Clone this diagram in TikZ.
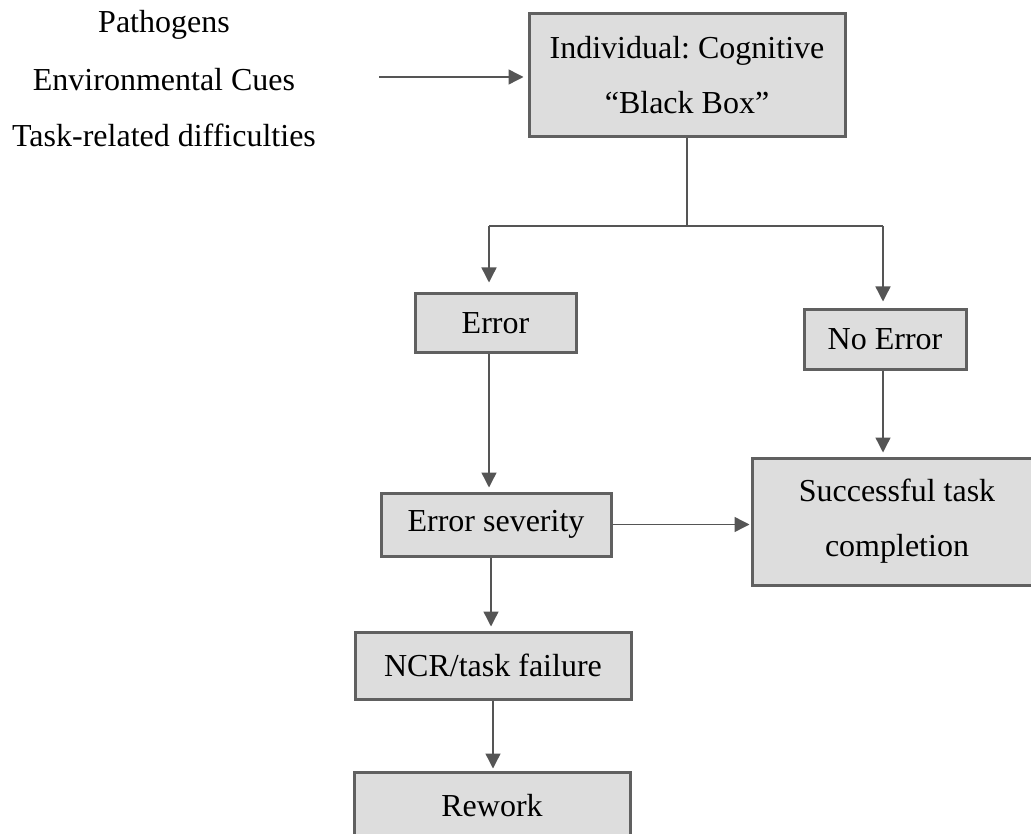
\documentclass[tikz,border=0pt]{standalone}
\usepackage{fontspec}
\setmainfont{Liberation Serif}
\usetikzlibrary{arrows.meta}
\definecolor{boxfill}{HTML}{DDDDDD}
\definecolor{boxline}{HTML}{606060}
\definecolor{linkline}{HTML}{555555}
\frenchspacing
\begin{document}
\begin{tikzpicture}[x=1pt,y=-1pt,
  font=\fontsize{32}{55}\selectfont,
  stage/.style={draw=boxline, line width=3pt, fill=boxfill, inner sep=0pt,
    align=center, anchor=center},
  link/.style={draw=linkline, line width=1.4pt},
  arr/.style={link, -{Triangle[length=15pt,width=15pt]}, shorten >=4pt},
  cause/.style={inner sep=0pt, anchor=center}]
\useasboundingbox (0,0) rectangle (1031,834);
\clip (0,0) rectangle (1031,834);

% influencing factors
\node[cause] (pat) at (164,25) {Pathogens};
\node[cause] (env) at (164,80) {Environmental Cues};
\node[cause] (tsk) at (164,135) {Task-related difficulties};

% process stages
\node[stage, minimum width=316pt, minimum height=123pt] (bb) at (687,75.5)
  {Individual: Cognitive\\``Black Box''};
\node[stage, minimum width=161pt, minimum height=59pt] (err) at (495.5,323.5) {Error};
\node[stage, minimum width=162pt, minimum height=59pt] (noerr) at (885,339.5) {No Error};
\node[stage, minimum width=230pt, minimum height=63pt] (sev) at (496,524.5) {Error severity};
\node[stage, minimum width=290pt, minimum height=127pt] (succ) at (897,521.5)
  {Successful task\\completion};
\node[stage, minimum width=276pt, minimum height=67pt] (ncr) at (493,665.5) {NCR/task failure};
\node[stage, minimum width=276pt, minimum height=68pt] (rew) at (492,806) {Rework};

% branching point below the black box
\coordinate (in) at (379,77);
\coordinate (j) at (687,226);
\coordinate (jl) at (489,226);
\coordinate (jr) at (883,226);

\draw[arr] (in) -- (in -| bb.west);
\draw[link] (bb.south) -- (j);
\draw[link] (jl) -- (jr);
\draw[arr, shorten >=10pt] (jl) -- (jl |- err.north);
\draw[arr, shorten >=7pt] (jr) -- (jr |- noerr.north);
\draw[arr] (jl |- err.south) -- (jl |- sev.north);
\draw[arr, shorten >=1pt] (sev.east) -- (succ.west |- sev.east);
\draw[arr] (jr |- noerr.south) -- (jr |- succ.north);
\draw[arr] ([xshift=-5pt]sev.south) -- ([xshift=-5pt]sev.south |- ncr.north);
\draw[arr, shorten >=2pt] (ncr.south) -- (ncr.south |- rew.north);
\end{tikzpicture}
\end{document}
